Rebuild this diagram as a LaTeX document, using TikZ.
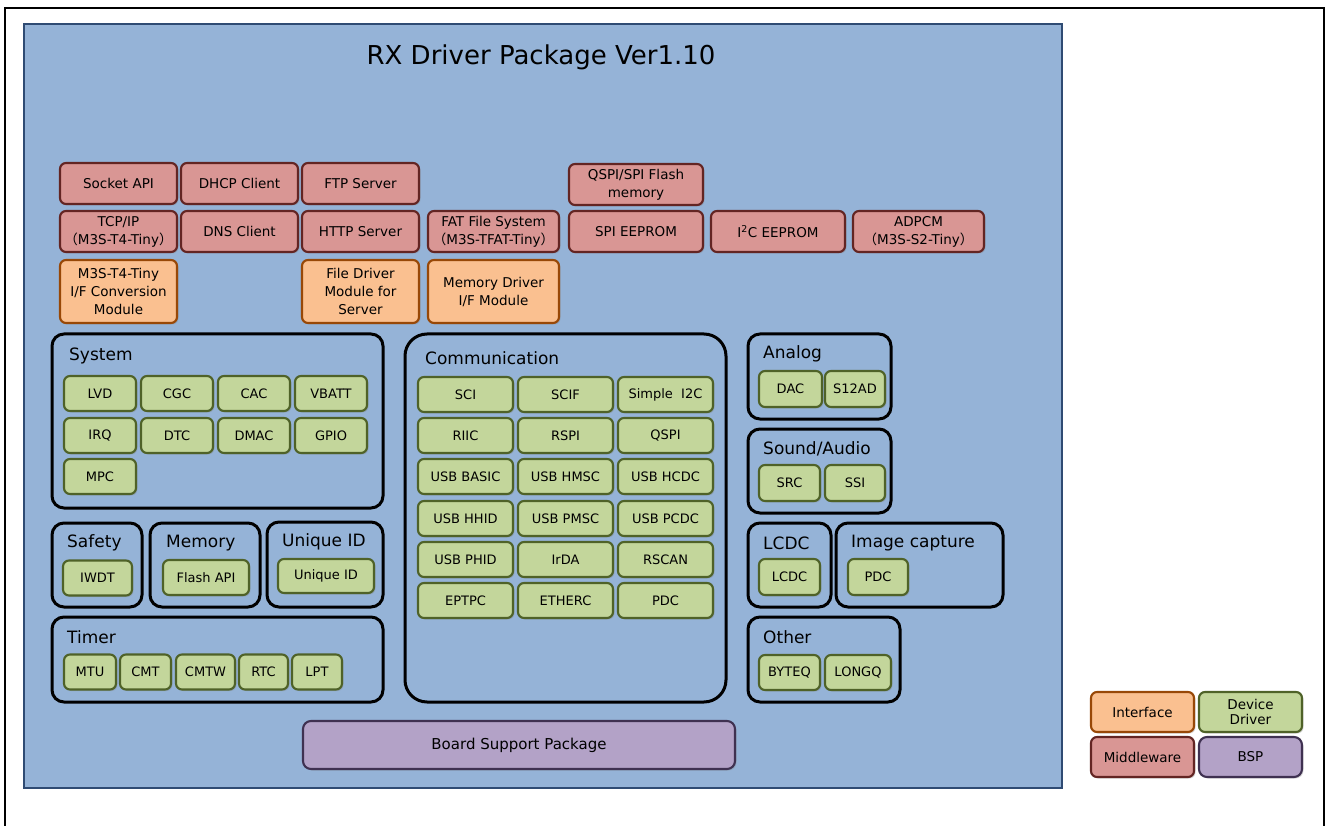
\documentclass[tikz,border=0pt]{standalone}
\usepackage{fontspec}
\setmainfont{DejaVu Sans}
\newfontfamily\cjkfont{Noto Sans CJK JP}
\usetikzlibrary{shapes,shadows,positioning}
\definecolor{panelfill}{HTML}{95B3D7}
\definecolor{panelline}{HTML}{2F4B73}
\definecolor{drvfill}{HTML}{C3D69B}
\definecolor{drvline}{HTML}{4F6228}
\definecolor{midfill}{HTML}{D99694}
\definecolor{midline}{HTML}{632523}
\definecolor{intffill}{HTML}{FAC090}
\definecolor{intfline}{HTML}{984807}
\definecolor{bspfill}{HTML}{B3A2C7}
\definecolor{bspline}{HTML}{3F3151}
\newcommand{\fwl}{{\cjkfont （}}
\newcommand{\fwr}{{\cjkfont ）}}
\tikzstyle{box} = [rectangle, rounded corners=6pt, line width=2.1pt, inner sep=0pt, outer sep=0pt, align=center, font=\fontsize{13}{18}\selectfont, drop shadow={shadow xshift=1.5pt, shadow yshift=-1.5pt, opacity=0.3}]
\tikzstyle{drv} = [box, draw=drvline, fill=drvfill, minimum width=72pt, minimum height=35pt]
\tikzstyle{mid} = [box, draw=midline, fill=midfill, minimum width=117pt, minimum height=41pt, font=\fontsize{13.5}{18}\selectfont]
\tikzstyle{intf} = [box, draw=intfline, fill=intffill, minimum width=117pt, minimum height=63pt, font=\fontsize{13.5}{18}\selectfont]
\tikzstyle{bsp} = [box, draw=bspline, fill=bspfill, rounded corners=8pt]
\tikzstyle{grp} = [rectangle, draw=black, line width=3pt, rounded corners=12pt, anchor=north west, inner sep=0pt, outer sep=0pt]
\tikzstyle{grptitle} = [anchor=west, inner sep=0pt, font=\fontsize{17}{17}\selectfont]
\begin{document}
\begin{tikzpicture}[x=1pt, y=1pt]
	\useasboundingbox (0,0) rectangle (1326,-826);
	\draw [line width=2pt] (5,-826) -- (5,-8) -- (1324,-8) -- (1324,-826);
	
	\node [rectangle, draw=panelline, fill=panelfill, line width=2pt, minimum width=1038pt, minimum height=764pt] (pkg) at (543,-406) {};
	\node [font=\fontsize{26}{26}\selectfont] (title) at (541,-57) {RX Driver Package Ver1.10};
	
	% middleware and interface
	\node [mid] (sock) at (118.5,-183.5) {Socket API};
	\node [mid, right=4pt of sock] (dhcp) {DHCP Client};
	\node [mid, right=4pt of dhcp] (ftp) {FTP Server};
	\node [mid, below=7pt of sock] (tcpip) {TCP/IP\\\fwl M3S-T4-Tiny\fwr};
	\node [mid, below=7pt of dhcp] (dns) {DNS Client};
	\node [mid, below=7pt of ftp] (http) {HTTP Server};
	\node [intf, below=8pt of tcpip] (tcpif) {M3S-T4-Tiny\\I/F Conversion\\Module};
	\node [intf, below=8pt of http] (filedrv) {File Driver\\Module for\\Server};
	
	\node [mid, minimum width=131pt] (fat) at (493.5,-231.5) {FAT File System\\\fwl M3S-TFAT-Tiny\fwr};
	\node [intf, minimum width=131pt, below=8pt of fat] (memdrv) {Memory Driver\\I/F Module};
	\node [mid, minimum width=134pt, right=10pt of fat] (spiee) {SPI EEPROM};
	\node [mid, minimum width=134pt, above=6pt of spiee] (qspiflash) {QSPI/SPI Flash\\memory};
	\node [mid, minimum width=134pt, right=8pt of spiee] (i2cee) {I\textsuperscript{2}C EEPROM};
	\node [mid, minimum width=131pt, right=8pt of i2cee] (adpcm) {ADPCM\\\fwl M3S-S2-Tiny\fwr};
	
	% system
	\node [grp, minimum width=331pt, minimum height=174pt] (system) at (52,-334) {};
	\node [grptitle] (systemtitle) at (69,-356) {System};
	\node [drv] (lvd) at (100,-393.5) {LVD};
	\node [drv, right=5pt of lvd] (cgc) {CGC};
	\node [drv, right=5pt of cgc] (cac) {CAC};
	\node [drv, right=5pt of cac] (vbatt) {VBATT};
	\node [drv, below=7pt of lvd] (irq) {IRQ};
	\node [drv, below=7pt of cgc] (dtc) {DTC};
	\node [drv, below=7pt of cac] (dmac) {DMAC};
	\node [drv, below=7pt of vbatt] (gpio) {GPIO};
	\node [drv, below=6pt of irq] (mpc) {MPC};
	
	\node [grp, minimum width=90pt, minimum height=84pt] (safety) at (52,-523) {};
	\node [grptitle] (safetytitle) at (67,-543) {Safety};
	\node [drv, minimum width=69pt] (iwdt) at (97.5,-578) {IWDT};
	
	\node [grp, minimum width=110pt, minimum height=84pt] (memory) at (150,-523) {};
	\node [grptitle] (memorytitle) at (166,-543) {Memory};
	\node [drv, minimum width=86pt] (flash) at (206,-577.5) {Flash API};
	
	\node [grp, minimum width=116pt, minimum height=85pt] (uniq) at (267,-522) {};
	\node [grptitle] (uniqtitle) at (282,-542) {Unique ID};
	\node [drv, minimum width=96pt, minimum height=34pt] (uid) at (326,-576) {Unique ID};
	
	\node [grp, minimum width=331pt, minimum height=85pt] (timer) at (52,-617) {};
	\node [grptitle] (timertitle) at (67,-637) {Timer};
	\node [drv, minimum width=52pt] (mtu) at (90,-672) {MTU};
	\node [drv, minimum width=51pt, right=4pt of mtu] (cmt) {CMT};
	\node [drv, minimum width=59pt, right=5pt of cmt] (cmtw) {CMTW};
	\node [drv, minimum width=49pt, right=4pt of cmtw] (rtc) {RTC};
	\node [drv, minimum width=50pt, right=4pt of rtc] (lpt) {LPT};
	
	% communication
	\node [grp, rounded corners=22pt, minimum width=321pt, minimum height=368pt] (comm) at (405,-334) {};
	\node [grptitle] (commtitle) at (425,-358) {Communication};
	\node [drv, minimum width=95pt] (sci) at (465.5,-394.5) {SCI};
	\node [drv, minimum width=95pt, right=5pt of sci] (scif) {SCIF};
	\node [drv, minimum width=95pt, right=5pt of scif] (simi2c) {Simple~ I2C};
	\node [drv, minimum width=95pt, below=6pt of sci] (riic) {RIIC};
	\node [drv, minimum width=95pt, right=5pt of riic] (rspi) {RSPI};
	\node [drv, minimum width=95pt, right=5pt of rspi] (qspi) {QSPI};
	\node [drv, minimum width=95pt, below=6pt of riic] (usbbasic) {USB BASIC};
	\node [drv, minimum width=95pt, right=5pt of usbbasic] (usbhmsc) {USB HMSC};
	\node [drv, minimum width=95pt, right=5pt of usbhmsc] (usbhcdc) {USB HCDC};
	\node [drv, minimum width=95pt, below=7pt of usbbasic] (usbhhid) {USB HHID};
	\node [drv, minimum width=95pt, right=5pt of usbhhid] (usbpmsc) {USB PMSC};
	\node [drv, minimum width=95pt, right=5pt of usbpmsc] (usbpcdc) {USB PCDC};
	\node [drv, minimum width=95pt, below=6pt of usbhhid] (usbphid) {USB PHID};
	\node [drv, minimum width=95pt, right=5pt of usbphid] (irda) {IrDA};
	\node [drv, minimum width=95pt, right=5pt of irda] (rscan) {RSCAN};
	\node [drv, minimum width=95pt, below=6pt of usbphid] (eptpc) {EPTPC};
	\node [drv, minimum width=95pt, right=5pt of eptpc] (etherc) {ETHERC};
	\node [drv, minimum width=95pt, right=5pt of etherc] (pdc) {PDC};
	
	% analog, sound, lcdc, image capture, other
	\node [grp, minimum width=143pt, minimum height=85pt] (analog) at (748,-334) {};
	\node [grptitle] (analogtitle) at (763,-354) {Analog};
	\node [drv, minimum width=63pt, minimum height=36pt] (dac) at (790.5,-389) {DAC};
	\node [drv, minimum width=60pt, minimum height=36pt, right=3pt of dac] (s12ad) {S12AD};
	
	\node [grp, minimum width=143pt, minimum height=84pt] (sound) at (748,-429) {};
	\node [grptitle] (soundtitle) at (763,-449) {Sound/Audio};
	\node [drv, minimum width=61pt, minimum height=36pt] (src) at (789.5,-483) {SRC};
	\node [drv, minimum width=60pt, minimum height=36pt, right=5pt of src] (ssi) {SSI};
	
	\node [grp, minimum width=83pt, minimum height=84pt] (lcdc) at (748,-523) {};
	\node [grptitle] (lcdctitle) at (763,-543) {LCDC};
	\node [drv, minimum width=61pt, minimum height=36pt] (lcdcdrv) at (789.5,-577) {LCDC};
	
	\node [grp, minimum width=167pt, minimum height=84pt] (imgcap) at (836,-523) {};
	\node [grptitle] (imgcaptitle) at (851,-543) {Image capture};
	\node [drv, minimum width=60pt, minimum height=36pt] (pdcimg) at (878,-577) {PDC};
	
	\node [grp, minimum width=152pt, minimum height=85pt] (other) at (748,-617) {};
	\node [grptitle] (othertitle) at (763,-637) {Other};
	\node [drv, minimum width=61pt] (byteq) at (789.5,-672.5) {BYTEQ};
	\node [drv, minimum width=66pt, right=5pt of byteq] (longq) {LONGQ};
	
	% board support package
	\node [bsp, minimum width=432pt, minimum height=48pt, font=\fontsize{15}{15}\selectfont] (bsppkg) at (519,-745) {Board Support Package};
	
	% legend
	\node [intf, minimum width=103pt, minimum height=40pt] (keyintf) at (1142.5,-712) {Interface};
	\node [drv, minimum width=103pt, minimum height=40pt, font=\fontsize{13.5}{18}\selectfont, right=5pt of keyintf] (keydrv) {Device\\[-3pt]Driver};
	\node [mid, minimum width=103pt, minimum height=40pt, below=5pt of keyintf] (keymid) {Middleware};
	\node [bsp, minimum width=103pt, minimum height=40pt, font=\fontsize{13.5}{18}\selectfont, below=5pt of keydrv] (keybsp) {BSP};
\end{tikzpicture}
\end{document}
